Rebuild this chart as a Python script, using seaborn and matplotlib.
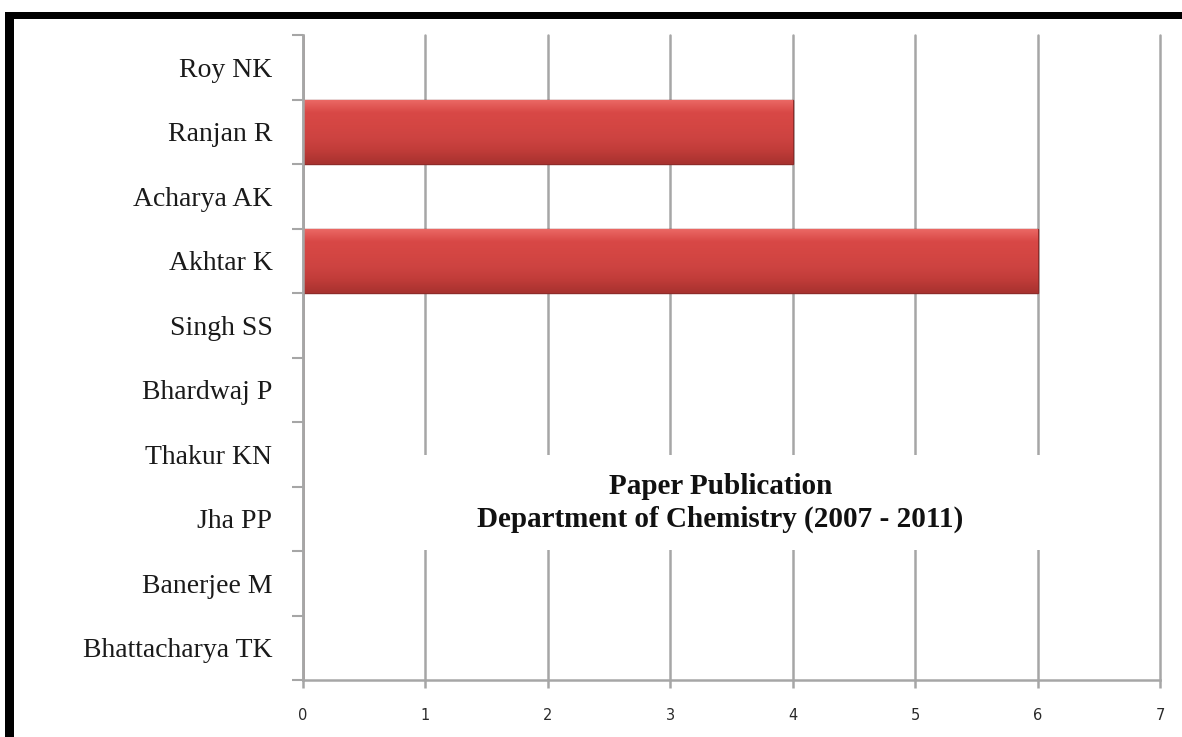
import matplotlib
matplotlib.use("Agg")
import matplotlib.pyplot as plt
import seaborn as sns
import pandas as pd
import numpy as np
from matplotlib.patches import Rectangle
from matplotlib.colors import LinearSegmentedColormap

# Paper publication counts per faculty member (2007 - 2011)
authors = ["Roy NK", "Ranjan R", "Acharya AK", "Akhtar K", "Singh SS",
           "Bhardwaj P", "Thakur KN", "Jha PP", "Banerjee M", "Bhattacharya TK"]
papers = [0, 4, 0, 6, 0, 0, 0, 0, 0, 0]
x_ticks = [0, 1, 2, 3, 4, 5, 6, 7]

df = pd.DataFrame({"Author": authors, "Papers": papers})

sns.set_style("white")
W, H = 1182, 737
fig = plt.figure(figsize=(W / 100, H / 100), dpi=100)
ax = fig.add_axes([303 / W, 1 - 680 / H, (1160 - 303) / W, (680 - 35) / H])

sns.barplot(data=df, x="Papers", y="Author", orient="h", ax=ax,
            color="#d04441", edgecolor="#8e2b29", linewidth=1.0,
            width=1.0, saturation=1)

# glossy vertical gradient on each bar, clipped to the bar shape
grad = LinearSegmentedColormap.from_list(
    "bar", ["#ec6a66", "#d84846", "#d44643", "#cd4341", "#c03c39", "#a8322f"])
g = np.linspace(0, 1, 64).reshape(-1, 1)
for p in list(ax.patches):
    w = p.get_width()
    if w <= 0:
        continue
    x0, y0 = p.get_x(), p.get_y()
    h = p.get_height()
    im = ax.imshow(g, cmap=grad, aspect="auto", interpolation="bicubic",
                   extent=[x0, x0 + w, y0 + h, y0], zorder=p.get_zorder() + 0.1)
    im.set_clip_path(p)

grid_col = "#a6a6a6"
ax.set_xlim(0, 7)
ax.set_xticks(x_ticks)
ax.set_xticklabels([str(t) for t in x_ticks], fontsize=10.5,
                   family="DejaVu Sans", color="#2a2a2a")
ax.xaxis.grid(True, color=grid_col, linewidth=1.8)
for gl in ax.get_xgridlines():
    gl.set_clip_on(False)
ax.yaxis.grid(False)
ax.set_axisbelow(True)
ax.tick_params(axis="x", length=6, width=1.8, color=grid_col, pad=14, bottom=True)

# category labels centered, tick marks on boundaries
ax.set_yticks(range(len(authors)))
ax.set_yticklabels(authors, fontsize=20, family="Liberation Serif", color="#1a1a1a")
ax.tick_params(axis="y", length=0, pad=22)
ax.set_yticks([i - 0.5 for i in range(len(authors) + 1)], minor=True)
ax.tick_params(axis="y", which="minor", length=8, width=1.5, color=grid_col, left=True)
ax.set_ylim(len(authors) - 0.5, -0.5)
ax.set_xlabel("")
ax.set_ylabel("")

for s in ["top", "right"]:
    ax.spines[s].set_visible(False)
for s in ["left", "bottom"]:
    ax.spines[s].set_color(grid_col)
    ax.spines[s].set_linewidth(1.8)

# white panel behind the title that cuts the gridlines
ax.add_patch(Rectangle((0.125, 0.202), 0.741, 0.147, transform=ax.transAxes,
                       facecolor="white", edgecolor="none", zorder=2))
ax.text(0.487, 0.274, "Paper Publication\nDepartment of Chemistry (2007 - 2011)",
        transform=ax.transAxes, ha="center", va="center", fontsize=21,
        fontweight="bold", family="Liberation Serif", color="#111111",
        linespacing=1.25, zorder=3)

# thick black frame on top and left
fig.patches.append(Rectangle((5 / W, 1 - 19 / H), 1, 7 / H, transform=fig.transFigure,
                             facecolor="black", edgecolor="none"))
fig.patches.append(Rectangle((5 / W, 0), 9 / W, 1 - 12 / H, transform=fig.transFigure,
                             facecolor="black", edgecolor="none"))

fig.savefig("out.png", dpi=100)
